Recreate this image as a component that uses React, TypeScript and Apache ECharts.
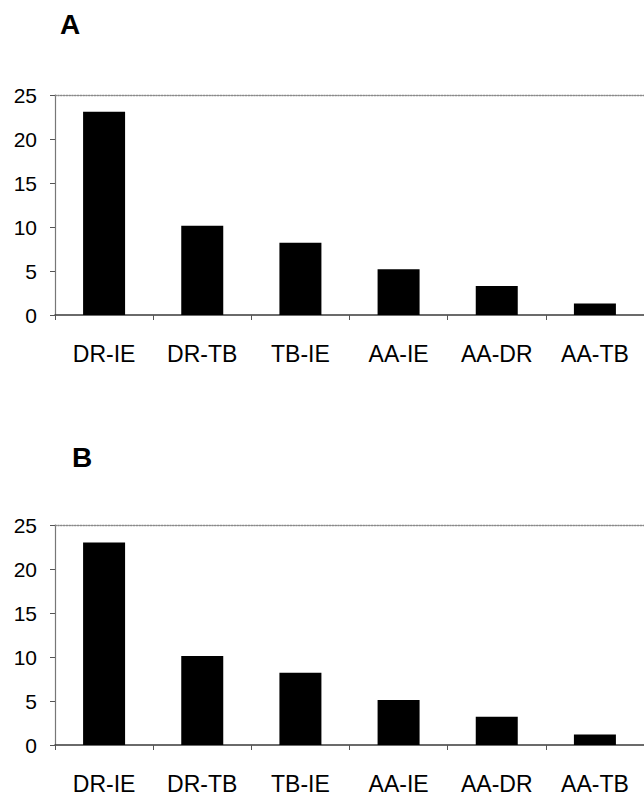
import React, { useEffect, useRef } from "react";
import * as echarts from "echarts";

const categories = ["DR-IE", "DR-TB", "TB-IE", "AA-IE", "AA-DR", "AA-TB"];
const valuesA = [23.1, 10.15, 8.2, 5.2, 3.3, 1.3];
const valuesB = [23.0, 10.1, 8.2, 5.1, 3.2, 1.2];
const panelLabels = ["A", "B"];
const yMin = 0;
const yMax = 25;
const yInterval = 5;

const FONT = "'Liberation Sans', Arial, Helvetica, sans-serif";

export default function App() {
  const ref = useRef<HTMLDivElement>(null);

  useEffect(() => {
    if (!ref.current) return;
    const chart = echarts.init(ref.current, undefined, { renderer: "svg" });

    const grids = [
      { left: 55, top: 95, width: 594, height: 220 },
      { left: 55, top: 525, width: 594, height: 221 },
    ];

    const mainX = (gi: number) => ({
      type: "category",
      gridIndex: gi,
      data: categories,
      position: "bottom",
      axisLine: { show: true, lineStyle: { color: "#3a3a3a", width: 1.5 } },
      axisTick: { show: true, alignWithLabel: false, length: 5, lineStyle: { color: "#555", width: 1 } },
      axisLabel: { show: true, margin: 27, fontSize: 23, color: "#000", fontFamily: FONT, interval: 0 },
      splitLine: { show: false },
    });
    const topX = (gi: number) => ({
      type: "category",
      gridIndex: gi,
      data: categories,
      position: "top",
      axisLine: { show: true, lineStyle: { color: "#8a8a8a", width: 1.4, type: "dotted" } },
      axisTick: { show: false },
      axisLabel: { show: false },
      splitLine: { show: false },
    });
    const yAx = (gi: number) => ({
      type: "value",
      gridIndex: gi,
      min: yMin,
      max: yMax,
      interval: yInterval,
      axisLine: { show: true, lineStyle: { color: "#777", width: 1.2 } },
      axisTick: { show: true, inside: false, length: 5, lineStyle: { color: "#555" } },
      axisLabel: { show: true, margin: 18, fontSize: 21, color: "#000", fontFamily: FONT, padding: [10, 0, 0, 0] },
      splitLine: { show: false },
    });

    chart.setOption({
      animation: false,
      backgroundColor: "#fff",
      title: [
        { text: panelLabels[0], left: 60, top: 10, padding: 0, textStyle: { fontSize: 28, fontWeight: "bold", color: "#000", fontFamily: FONT } },
        { text: panelLabels[1], left: 72, top: 443, padding: 0, textStyle: { fontSize: 28, fontWeight: "bold", color: "#000", fontFamily: FONT } },
      ],
      grid: grids,
      xAxis: [mainX(0), mainX(1), topX(0), topX(1)],
      yAxis: [yAx(0), yAx(1)],
      series: [
        { type: "bar", xAxisIndex: 0, yAxisIndex: 0, data: valuesA, barWidth: 42, itemStyle: { color: "#000" } },
        { type: "bar", xAxisIndex: 1, yAxisIndex: 1, data: valuesB, barWidth: 42, itemStyle: { color: "#000" } },
      ],
    });

    return () => chart.dispose();
  }, []);

  return (
    <div
      ref={ref}
      style={{ position: "fixed", left: 0, top: 0, width: 644, height: 795, background: "#fff" }}
    />
  );
}
